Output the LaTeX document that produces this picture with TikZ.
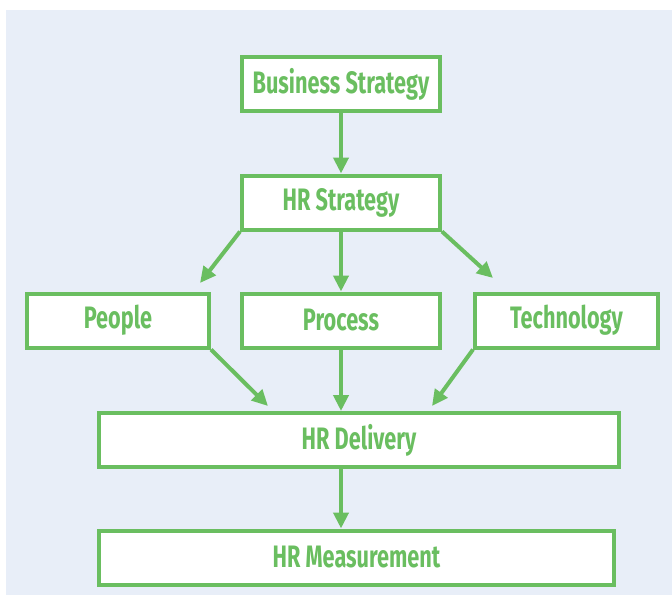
\documentclass[tikz,border=0pt]{standalone}
\usepackage{fontspec}
\setmainfont{Fira Sans}[FakeStretch=0.7]
\usetikzlibrary{arrows.meta}

\definecolor{hrgreen}{RGB}{106,190,96}
\definecolor{hrback}{RGB}{232,238,248}

\tikzset{
  stagebox/.style={draw=hrgreen, line width=2pt, fill=white, text=hrgreen,
    font=\fontsize{15.5}{18}\selectfont\bfseries, minimum height=27pt, inner sep=0pt},
  flow/.style={draw=hrgreen, line width=2pt, -{Triangle[length=8pt,width=7.5pt]}}
}

\begin{document}
\begin{tikzpicture}[x=0.5pt,y=-0.5pt]
\useasboundingbox (0,0) rectangle (672,595);
\fill[hrback] (6,10) rectangle (672,595);

% boxes, top to bottom
\node[stagebox, minimum width=99pt] (business) at (341,84) {Business Strategy};
\node[stagebox, minimum width=99pt] (hrstrategy) at (341,202.5) {HR Strategy};
\node[stagebox, minimum width=91pt] (people) at (118,320.5) {People};
\node[stagebox, minimum width=99pt] (process) at (341,320.5) {Process};
\node[stagebox, minimum width=91.5pt] (technology) at (566.5,320.5) {Technology};
\node[stagebox, minimum width=260pt] (delivery) at (359,440) {HR Delivery};
\node[stagebox, minimum width=257.5pt] (measurement) at (356.5,557.5) {HR Measurement};

% free ends of the slanted arrows
\coordinate (peopletip) at (200,283);
\coordinate (techtip) at (493,278);
\coordinate (delivleft) at (268,406);
\coordinate (delivright) at (432,406);

\draw[flow] (business) -- (hrstrategy);
\draw[flow] (hrstrategy.south west) -- (peopletip);
\draw[flow] (hrstrategy) -- (process);
\draw[flow] (hrstrategy.south east) -- (techtip);
\draw[flow] (people.south east) -- (delivleft);
\draw[flow] (process) -- (process |- delivery.north);
\draw[flow] (technology.south west) -- (delivright);
\draw[flow] (delivery.south -| process) -- (measurement.north -| process);
\end{tikzpicture}
\end{document}
